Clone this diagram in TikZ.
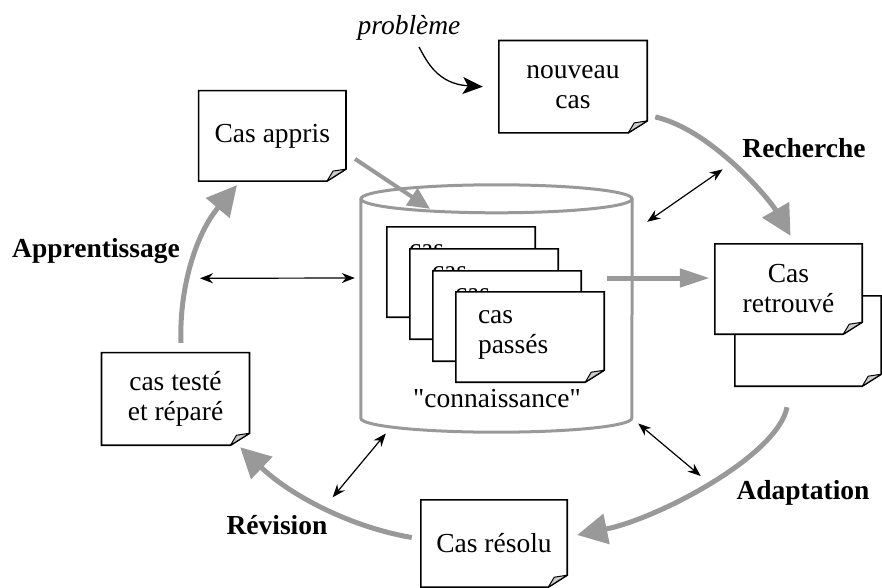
\documentclass[tikz,border=0pt]{standalone}
\usepackage{fontspec}
\setmainfont{Liberation Serif}
\newfontfamily\qfont{Liberation Serif}
\usetikzlibrary{arrows.meta,calc}
\definecolor{arrgray}{gray}{0.6}
\definecolor{foldgray}{gray}{0.8}
\newcommand\bigfont{\fontsize{27.5}{30}\selectfont}
\tikzset{
  notebox/.style={rectangle, fill=white, draw=none, inner sep=0pt, align=center},
  noteline/.style={line width=1.6pt, line join=miter},
  bigarrow/.style={draw=arrgray, line width=5pt, -{Triangle[length=30pt,width=30pt]}},
  dbl/.style={line width=1.2pt, {Stealth[length=13pt,width=10pt]}-{Stealth[length=13pt,width=10pt]}},
  lbl/.style={font=\bigfont\bfseries, inner sep=0pt},
  cyl/.style={draw=arrgray, line width=3pt},
  sheettext/.style={anchor=north west, align=left, inner sep=0pt},
}
\newcommand\foldoutline[1]{%
  \draw[noteline] ($(#1.south east)+(0,-12)$) -- (#1.north east) -- (#1.north west) -- (#1.south west) -- ($(#1.south east)+(-19,0)$) -- cycle;
  \draw[line width=1pt, fill=foldgray, line join=round] ($(#1.south east)+(-19,0)$) -- ($(#1.south east)+(-13,-10)$) -- ($(#1.south east)+(0,-12)$) -- cycle;
}
\begin{document}
\begin{tikzpicture}[x=1pt,y=-1pt, font=\bigfont]
\useasboundingbox (0,0) rectangle (882,588);

% knowledge cylinder
\node[draw=none, minimum width=271pt, minimum height=247pt, inner sep=0pt] (kb) at (496.5,308.5) {};
\draw[cyl] ($(kb.north west)+(0,14)$) -- ($(kb.south west)+(0,-14)$)
  arc[start angle=180, end angle=360, x radius=135.5pt, y radius=14pt]
  -- ($(kb.north east)+(0,14)$);
\draw[cyl] ($(kb.north)+(0,14)$) ellipse [x radius=135.5pt, y radius=14pt];

% stacked sheets
\node[notebox, minimum width=148pt, minimum height=90pt] (s1) at (461,272) {};
\foldoutline{s1}
\node[sheettext] (t1) at ($(s1.north west)+(22,18)$) {cas};
\node[notebox, minimum width=148pt, minimum height=90pt] (s2) at (484,294) {};
\foldoutline{s2}
\node[sheettext] (t2) at ($(s2.north west)+(22,18)$) {cas};
\node[notebox, minimum width=148pt, minimum height=90pt] (s3) at (507,316) {};
\foldoutline{s3}
\node[sheettext] (t3) at ($(s3.north west)+(22,18)$) {cas};
\node[notebox, minimum width=148pt, minimum height=90pt] (s4) at (530,337) {};
\foldoutline{s4}
\node[sheettext] (t4) at ($(s4.north west)+(22,19)$) {cas\\passés};
\node[inner sep=0pt] (conn) at (497,399) {\qfont "connaissance"};

% notes
\node[notebox, minimum width=147pt, minimum height=90pt] (appris) at (272.3,135.9) {Cas appris};
\foldoutline{appris}
\node[notebox, minimum width=148pt, minimum height=92pt] (nouveau) at (573,86.7) {nouveau\\cas};
\foldoutline{nouveau}
\node[notebox, minimum width=146pt, minimum height=90pt] (retrouveB) at (808,341) {};
\foldoutline{retrouveB}
\node[notebox, minimum width=147pt, minimum height=90pt] (retrouve) at (788.5,289) {Cas\\retrouvé};
\foldoutline{retrouve}
\node[notebox, minimum width=147.6pt, minimum height=92.3pt] (teste) at (175.5,398.9) {cas testé\\et réparé};
\foldoutline{teste}
\node[notebox, minimum width=146pt, minimum height=87pt] (resolu) at (494,543.5) {Cas résolu};
\foldoutline{resolu}

% labels
\node[font=\bigfont\itshape, inner sep=0pt] (probleme) at (409,28.3) {problème};
\node[lbl] (recherche) at (804,148) {Recherche};
\node[lbl] (adaptation) at (803,492.5) {Adaptation};
\node[lbl] (revision) at (277,525) {Révision};
\node[lbl] (apprentissage) at (96,251) {Apprentissage};

% problem arrow
\draw[line width=1.3pt, -{Stealth[length=20pt,width=17pt,inset=5pt]}]
  ($(probleme.south)+(10,6)$) .. controls (427,62) and (438,84) .. ($(nouveau.west)+(-16,0)$);

% gray process arrows
\draw[bigarrow] ($(nouveau.south east)+(8,-16)$) .. controls (712,130) and (770,200) .. ($(retrouve.north)+(2,-8)$);
\draw[bigarrow, -{Triangle[length=30pt,width=18pt]}] ($(kb.east)+(-25,-30.5)$) -- ($(retrouve.west)+(-5,-11)$);
\draw[bigarrow] ($(retrouveB.south)+(-21,21)$) .. controls (778,455) and (660,518) .. ($(resolu.east)+(10,-8.5)$);
\draw[bigarrow] ($(resolu.west)+(-9,-6)$) .. controls (350,527) and (290,495) .. ($(teste.south east)+(-9.3,2)$);
\draw[bigarrow] ($(teste.north)+(5.5,-9.7)$) .. controls (179,290) and (195,235) .. ($(appris.south)+(-35.3,4)$);
\draw[bigarrow, line width=4pt, -{Triangle[length=22pt,width=20pt]}] ($(appris.east)+(9,23)$) -- ($(kb.north)+(-66.5,24)$);

% black double arrows
\coordinate (ra) at (722.7,169.3);
\coordinate (la) at (200,278.3);
\coordinate (va) at (332.7,497.3);
\coordinate (da) at (700.7,476);
\draw[dbl] ($(kb.north east)+(15,37)$) -- (ra);
\draw[dbl] (la) -- ($(kb.west)+(-6,-30.5)$);
\draw[dbl] (va) -- ($(kb.south west)+(25,1.3)$);
\draw[dbl] ($(kb.south east)+(6,-8.7)$) -- (da);
\end{tikzpicture}
\end{document}
